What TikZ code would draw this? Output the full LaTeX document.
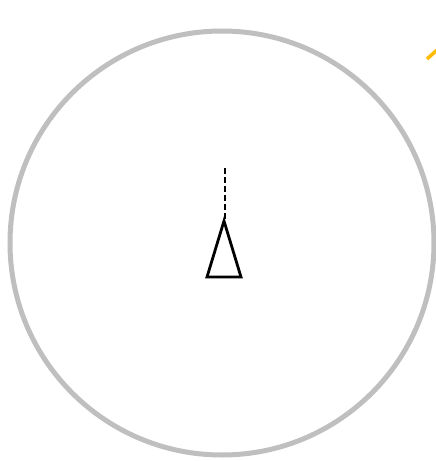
\documentclass[tikz,border=0pt]{standalone}
\definecolor{gold}{RGB}{255,188,0}
\begin{document}
\begin{tikzpicture}[x=1pt,y=-1pt,
  ring/.style={draw=black!25, line width=5pt},
  marker/.style={draw=black, line width=2.8pt, line join=miter},
  heading/.style={draw=black, line width=2.8pt, dash pattern=on 6pt off 3pt},
  ray/.style={draw=gold, line width=3.5pt}]
\useasboundingbox (0,0) rectangle (436,461);
\coordinate (c) at (222,243);
\draw[ring] (c) circle[radius=212];
\coordinate (apex) at (224,221);
\coordinate (bl) at (207,277);
\coordinate (br) at (241,277);
\coordinate (top) at (225,168);
\draw[heading] (top) -- (225,219);
\draw[marker] (apex) -- (bl) -- (br) -- cycle;
\coordinate (r1) at (427,59);
\coordinate (r2) at (437,50);
\draw[ray] (r1) -- (r2);
\end{tikzpicture}
\end{document}
